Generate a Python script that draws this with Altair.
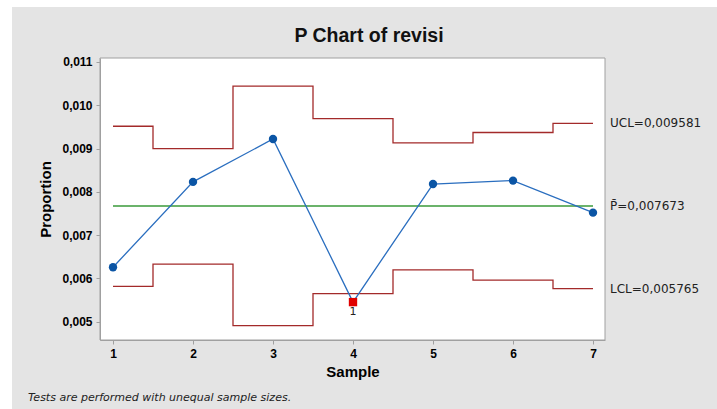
import altair as alt
import pandas as pd

samples = [1, 2, 3, 4, 5, 6, 7]
proportion = [0.00626, 0.00823, 0.00922, 0.005455, 0.00818, 0.00826, 0.00752]
ucl = [0.009515, 0.00900, 0.01044, 0.00969, 0.00913, 0.00937, 0.009581]
lcl = [0.00582, 0.00633, 0.00491, 0.00565, 0.00620, 0.00596, 0.005765]
center = 0.007673
x_ticks = [1, 2, 3, 4, 5, 6, 7]
y_ticks = [0.005, 0.006, 0.007, 0.008, 0.009, 0.010, 0.011]

W, H = 505, 282

pts = pd.DataFrame({"sample": samples, "p": proportion, "lcl": lcl})
pts["out"] = pts["p"] < pts["lcl"]

rows = []
for name, vals in (("UCL", ucl), ("LCL", lcl)):
    k = 0
    for s, v in zip(samples, vals):
        a = max(s - 0.5, samples[0])
        b = min(s + 0.5, samples[-1])
        rows.append({"series": name, "x": a, "v": v, "o": k}); k += 1
        rows.append({"series": name, "x": b, "v": v, "o": k}); k += 1
steps = pd.DataFrame(rows)

xs = alt.Scale(domain=[0.8375, 7.15], nice=False, zero=False)
ys = alt.Scale(domain=[0.00458, 0.01109], nice=False, zero=False)

xaxis = alt.Axis(values=x_ticks, format="d", title="Sample", labelFontWeight="bold", labelFontSize=12,
                 labelFont="Liberation Sans", titleFont="Liberation Sans", titleFontSize=15,
                 titleFontWeight="bold", titleBaseline="alphabetic", titleY=36, tickSize=4,
                 labelPadding=4, grid=False, domainColor="#a0a0a0", tickColor="#a0a0a0",
                 labelColor="#000000", titleColor="#000000", zindex=2)
yaxis = alt.Axis(values=y_ticks, title="Proportion", labelFontWeight="bold", labelFontSize=12,
                 labelFont="Liberation Sans", titleFont="Liberation Sans", titleFontSize=15,
                 titleFontWeight="bold", titleX=-55, titleY=H / 2, titleBaseline="middle",
                 titleAngle=270, titleAlign="center", tickSize=4, labelPadding=4, grid=False,
                 domainColor="#a0a0a0", tickColor="#a0a0a0", labelColor="#000000",
                 titleColor="#000000", zindex=2,
                 labelExpr="replace(format(datum.value, '.3f'), '.', ',')")

one = pd.DataFrame({"a": [0]})

axes_holder = alt.Chart(steps).mark_line(opacity=0).encode(
    x=alt.X("x:Q", scale=xs, axis=xaxis),
    y=alt.Y("v:Q", scale=ys, axis=yaxis),
    detail="series:N",
    order="o:Q",
)

bg = alt.Chart(one).mark_rect(color="#e4e4e4").encode(
    x=alt.value(-88), x2=alt.value(W + 112), y=alt.value(-51), y2=alt.value(H + 69))
panel = alt.Chart(one).mark_rect(color="white", stroke="#a0a0a0", strokeWidth=1).encode(
    x=alt.value(0), x2=alt.value(W), y=alt.value(0), y2=alt.value(H))

steps_layer = alt.Chart(steps).mark_line(color="#a32a2a", strokeWidth=1.3, interpolate="linear").encode(
    x=alt.X("x:Q", scale=xs),
    y=alt.Y("v:Q", scale=ys),
    detail="series:N",
    order="o:Q",
)

center_layer = alt.Chart(pd.DataFrame({"x": [samples[0], samples[-1]], "v": [center, center]})).mark_line(
    color="#3a9a3a", strokeWidth=1.3).encode(x=alt.X("x:Q", scale=xs), y=alt.Y("v:Q", scale=ys))

line_layer = alt.Chart(pts).mark_line(color="#2a6ebf", strokeWidth=1.3).encode(
    x=alt.X("sample:Q", scale=xs), y=alt.Y("p:Q", scale=ys))

dots = alt.Chart(pts).transform_filter("!datum.out").mark_circle(color="#0b55a5", size=70, opacity=1).encode(
    x=alt.X("sample:Q", scale=xs), y=alt.Y("p:Q", scale=ys))

bad = alt.Chart(pts).transform_filter("datum.out").mark_square(color="#e00000", size=70, opacity=1).encode(
    x=alt.X("sample:Q", scale=xs), y=alt.Y("p:Q", scale=ys))

bad_lbl = alt.Chart(pts).transform_filter("datum.out").mark_text(
    text="1", font="DejaVu Sans", fontSize=11, dy=10, baseline="middle", color="#222222").encode(
    x=alt.X("sample:Q", scale=xs), y=alt.Y("p:Q", scale=ys))

lbl_df = pd.DataFrame({
    "x": [samples[-1]] * 3,
    "v": [ucl[-1], center, lcl[-1]],
    "t": ["UCL=" + f"{ucl[-1]:.6f}".replace(".", ","),
          "P\u0304=" + f"{center:.6f}".replace(".", ","),
          "LCL=" + f"{lcl[-1]:.6f}".replace(".", ",")],
})
labels = alt.Chart(lbl_df).mark_text(align="left", baseline="middle", dx=17, font="DejaVu Sans",
                                     fontSize=12, color="#222222").encode(
    x=alt.X("x:Q", scale=xs), y=alt.Y("v:Q", scale=ys), text="t:N")

title = alt.Chart(pd.DataFrame({"t": ["P Chart of revisi"]})).mark_text(
    font="Liberation Sans", fontSize=19.5, fontWeight="bold", align="center", baseline="alphabetic",
    color="#111111").encode(x=alt.value(269), y=alt.value(-16), text="t:N")

note = alt.Chart(pd.DataFrame({"t": ["Tests are performed with unequal sample sizes."]})).mark_text(
    font="DejaVu Sans", fontSize=11, fontStyle="italic", align="left", baseline="alphabetic",
    color="#222222").encode(x=alt.value(-72), y=alt.value(H + 61), text="t:N")

chart = alt.layer(axes_holder, bg, panel, steps_layer, center_layer, line_layer, dots, bad, bad_lbl,
                  labels, title, note).properties(
    width=W, height=H,
    autosize=alt.AutoSizeParams(type="none"),
    padding={"left": 100, "top": 58, "right": 112, "bottom": 69},
    background="white",
).configure_view(stroke=None)

chart.save("out.html", embed_options={"renderer": "svg", "actions": False})
